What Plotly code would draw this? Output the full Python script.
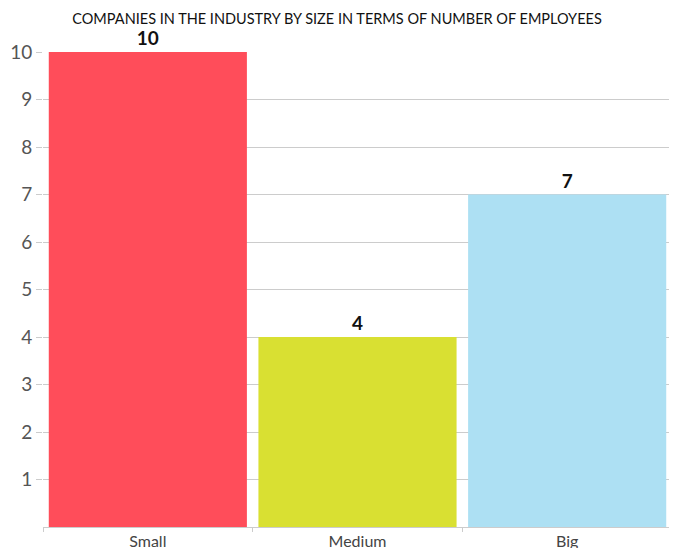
import plotly.graph_objects as go

categories = ["Small", "Medium", "Big"]
values = [10, 4, 7]
colors = ["#FF4D5A", "#D9E032", "#ADE0F3"]
y_ticks = [1, 2, 3, 4, 5, 6, 7, 8, 9, 10]
title_text = "COMPANIES IN THE INDUSTRY BY SIZE IN TERMS OF NUMBER OF EMPLOYEES"

fig = go.Figure(go.Bar(
    x=categories, y=values, marker_color=colors, marker_line_width=0,
    text=[str(v) for v in values], textposition="outside", cliponaxis=False,
    textfont=dict(family="Lato", size=19, color="#111111", weight="bold"),
))

fig.update_layout(
    width=677, height=548,
    margin=dict(l=35, r=13, t=44, b=29, autoexpand=False),
    paper_bgcolor="white", plot_bgcolor="white",
    bargap=0.055,
    showlegend=False,
    title=dict(text=title_text, x=0.486, xref="container", xanchor="center",
               y=0.98, yanchor="middle",
               font=dict(family="Lato", size=14.5, color="#111111")),
    font=dict(family="Lato"),
)
fig.update_yaxes(range=[0, 10], tickvals=y_ticks, showgrid=True, gridcolor="#CCCCCC", gridwidth=1,
                 ticks="outside", ticklen=6, tickcolor="#CCCCCC",
                 tickfont=dict(size=19, color="#555555"), zeroline=False,
                 showline=False, automargin=False)
fig.update_xaxes(tickson="boundaries", ticks="outside", ticklen=4, tickcolor="#CCCCCC",
                 showline=True, linecolor="#CCCCCC", linewidth=1, automargin=False,
                 tickfont=dict(size=16, color="#444444"))

fig.write_html("out.html")
